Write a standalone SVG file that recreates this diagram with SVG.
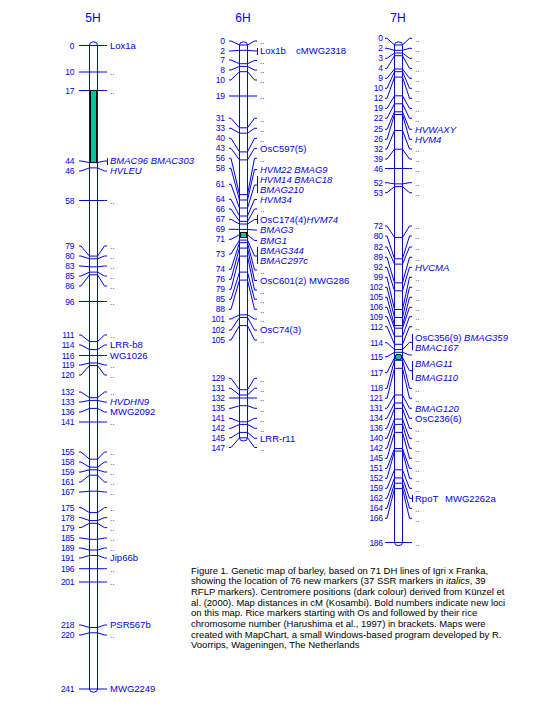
<svg xmlns="http://www.w3.org/2000/svg" width="540" height="720" viewBox="0 0 540 720">
<style>
text{font-family:"Liberation Sans",Arial,sans-serif;fill:#0000ff}
.h{font-size:12px;text-anchor:middle}
.n{font-size:8.5px;text-anchor:end;letter-spacing:-0.4px}
.l{font-size:9.5px}
.d{font-size:8px}
.i{font-style:italic}
.bar{fill:none;stroke:#0000ff;stroke-width:1}
.c path,.br{fill:none;stroke:#0000ff;stroke-width:1}
.cen{fill:#00c896;stroke:#000;stroke-width:1}
.cap{font-size:9.5px;fill:#000}
</style>
<rect width="540" height="720" fill="#fff"/>

<g id="connectors" class="c">
<!-- 5H -->
<path d="M79,45.5H81L89.5,45.5H97.5L104.5,45.5H107"/>
<path d="M79,72H81L89.5,72H97.5L104.5,72H107"/>
<path d="M79,90.5H81L89.5,90.5H97.5L104.5,90.5H107"/>
<path d="M79,161H81L89.5,162.6H97.5L104.5,161H107"/>
<path d="M79,171H81L89.5,167.9H97.5L104.5,171H107"/>
<path d="M79,200.5H81L89.5,200.5H97.5L104.5,200.5H107"/>
<path d="M79,246H81L89.5,256.1H97.5L104.5,246H107"/>
<path d="M79,256H81L89.5,258.8H97.5L104.5,256H107"/>
<path d="M79,266H81L89.5,266.8H97.5L104.5,266H107"/>
<path d="M79,276H81L89.5,272.1H97.5L104.5,276H107"/>
<path d="M79,286H81L89.5,274.8H97.5L104.5,286H107"/>
<path d="M79,301.5H81L89.5,301.5H97.5L104.5,301.5H107"/>
<path d="M79,335H81L89.5,341.6H97.5L104.5,335H107"/>
<path d="M79,345H81L89.5,349.6H97.5L104.5,345H107"/>
<path d="M79,355.5H81L89.5,355.5H97.5L104.5,355.5H107"/>
<path d="M79,365H81L89.5,363H97.5L104.5,365H107"/>
<path d="M79,375H81L89.5,365.6H97.5L104.5,375H107"/>
<path d="M79,392H81L89.5,397.7H97.5L104.5,392H107"/>
<path d="M79,402H81L89.5,400.4H97.5L104.5,402H107"/>
<path d="M79,412H81L89.5,408.4H97.5L104.5,412H107"/>
<path d="M79,422H81L89.5,422H97.5L104.5,422H107"/>
<path d="M79,452H81L89.5,459.2H97.5L104.5,452H107"/>
<path d="M79,462H81L89.5,467.2H97.5L104.5,462H107"/>
<path d="M79,472H81L89.5,469.8H97.5L104.5,472H107"/>
<path d="M79,482H81L89.5,475.2H97.5L104.5,482H107"/>
<path d="M79,492H81L89.5,491.2H97.5L104.5,492H107"/>
<path d="M79,507.6H81L89.5,512.6H97.5L104.5,507.6H107"/>
<path d="M79,517.6H81L89.5,520.6H97.5L104.5,517.6H107"/>
<path d="M79,527.6H81L89.5,523.3H97.5L104.5,527.6H107"/>
<path d="M79,538H81L89.5,539.3H97.5L104.5,538H107"/>
<path d="M79,548H81L89.5,550H97.5L104.5,548H107"/>
<path d="M79,558H81L89.5,555.4H97.5L104.5,558H107"/>
<path d="M79,568.7H81L89.5,568.7H97.5L104.5,568.7H107"/>
<path d="M79,582H81L89.5,582H97.5L104.5,582H107"/>
<path d="M79,625H81L89.5,627.5H97.5L104.5,625H107"/>
<path d="M79,635H81L89.5,632.8H97.5L104.5,635H107"/>
<path d="M79,689H81L89.5,689H97.5L104.5,689H107"/>
<!-- 6H -->
<path d="M229,41H231L239.5,45H247.5L254.5,41H257"/>
<path d="M229,51H231L239.5,50.3H247.5L254.5,51H257"/>
<path d="M229,60H231L239.5,63.7H247.5L254.5,60.5H257"/>
<path d="M229,70H231L239.5,66.4H247.5L254.5,70H257"/>
<path d="M229,80H231L239.5,71.7H247.5L254.5,80H257"/>
<path d="M229,96H231L239.5,96H247.5L254.5,96H257"/>
<path d="M229,118.3H231L239.5,127.8H247.5L254.5,118.3H257"/>
<path d="M229,128.3H231L239.5,133.2H247.5L254.5,128.3H257"/>
<path d="M229,138.3H231L239.5,151.9H247.5L254.5,138.3H257"/>
<path d="M229,148.3H231L239.5,159.9H247.5L254.5,148.3H257"/>
<path d="M229,158.3H231L239.5,194.6H247.5L254.5,158.3H257"/>
<path d="M229,168.3H231L239.5,200H247.5L254.5,169.5H257"/>
<path d="M229,184.3H231L239.5,208H247.5L254.5,185H257"/>
<path d="M229,199.3H231L239.5,216H247.5L254.5,199.5H257"/>
<path d="M229,209H231L239.5,221.4H247.5L254.5,209H257"/>
<path d="M229,219.3H231L239.5,224H247.5L254.5,219.5H257"/>
<path d="M229,229.3H231L239.5,229.4H247.5L254.5,230H257"/>
<path d="M229,239.3H231L239.5,234.7H247.5L254.5,240.5H257"/>
<path d="M229,254H231L239.5,240.1H247.5L254.5,256H257"/>
<path d="M229,269.3H231L239.5,242.7H247.5L254.5,270H257"/>
<path d="M229,279.3H231L239.5,248.1H247.5L254.5,280.5H257"/>
<path d="M229,289.3H231L239.5,256.1H247.5L254.5,290H257"/>
<path d="M229,299.3H231L239.5,272.1H247.5L254.5,299.3H257"/>
<path d="M229,309.3H231L239.5,280.1H247.5L254.5,309.3H257"/>
<path d="M229,319H231L239.5,314.9H247.5L254.5,319H257"/>
<path d="M229,330H231L239.5,317.5H247.5L254.5,330H257"/>
<path d="M229,340H231L239.5,325.6H247.5L254.5,340H257"/>
<path d="M229,378.3H231L239.5,389.7H247.5L254.5,378.3H257"/>
<path d="M229,388.3H231L239.5,395H247.5L254.5,388.3H257"/>
<path d="M229,398H231L239.5,398H247.5L254.5,398H257"/>
<path d="M229,408.3H231L239.5,405.7H247.5L254.5,408.3H257"/>
<path d="M229,418.3H231L239.5,421.8H247.5L254.5,418.3H257"/>
<path d="M229,428.3H231L239.5,424.4H247.5L254.5,428.3H257"/>
<path d="M229,437.8H231L239.5,432.4H247.5L254.5,438.3H257"/>
<path d="M229,447.5H231L239.5,437.8H247.5L254.5,447.5H257"/>
<!-- 7H -->
<path d="M385,38.3H387L394.5,45H402.5L409.5,38.3H412"/>
<path d="M385,48.3H387L394.5,50.3H402.5L409.5,48.3H412"/>
<path d="M385,58.3H387L394.5,53H402.5L409.5,58.3H412"/>
<path d="M385,68.3H387L394.5,55.7H402.5L409.5,68.3H412"/>
<path d="M385,78.3H387L394.5,69H402.5L409.5,78.3H412"/>
<path d="M385,88.3H387L394.5,71.7H402.5L409.5,88.3H412"/>
<path d="M385,98.3H387L394.5,77.1H402.5L409.5,98.3H412"/>
<path d="M385,108.3H387L394.5,95.8H402.5L409.5,108.3H412"/>
<path d="M385,118.3H387L394.5,103.8H402.5L409.5,118.3H412"/>
<path d="M385,129.3H387L394.5,111.8H402.5L409.5,129.3H412"/>
<path d="M385,139.3H387L394.5,114.5H402.5L409.5,139.3H412"/>
<path d="M385,149H387L394.5,130.5H402.5L409.5,149H412"/>
<path d="M385,159H387L394.5,149.2H402.5L409.5,159H412"/>
<path d="M385,168.5H387L394.5,168.5H402.5L409.5,168.5H412"/>
<path d="M385,182.7H387L394.5,183.9H402.5L409.5,182.7H412"/>
<path d="M385,192.7H387L394.5,186.6H402.5L409.5,192.7H412"/>
<path d="M385,226H387L394.5,237.4H402.5L409.5,226H412"/>
<path d="M385,236H387L394.5,258.8H402.5L409.5,236H412"/>
<path d="M385,247H387L394.5,264.1H402.5L409.5,247H412"/>
<path d="M385,257.3H387L394.5,282.8H402.5L409.5,257.3H412"/>
<path d="M385,267.3H387L394.5,290.8H402.5L409.5,267.3H412"/>
<path d="M385,277.3H387L394.5,309.5H402.5L409.5,277.3H412"/>
<path d="M385,287.3H387L394.5,317.5H402.5L409.5,287.3H412"/>
<path d="M385,297.3H387L394.5,325.6H402.5L409.5,297.3H412"/>
<path d="M385,307.3H387L394.5,328.2H402.5L409.5,307.3H412"/>
<path d="M385,316.7H387L394.5,336.2H402.5L409.5,316.7H412"/>
<path d="M385,326.7H387L394.5,344.3H402.5L409.5,326.7H412"/>
<path d="M385,342.7H387L394.5,349.6H402.5L409.5,342.3H412"/>
<path d="M385,356.7H387L394.5,352.3H402.5L409.5,355H412"/>
<path d="M385,372.7H387L394.5,357.6H402.5L409.5,370.7H412"/>
<path d="M385,388.3H387L394.5,360.3H402.5L409.5,388.3H412"/>
<path d="M385,398.3H387L394.5,368.3H402.5L409.5,398.3H412"/>
<path d="M385,408.3H387L394.5,395H402.5L409.5,408.3H412"/>
<path d="M385,418.3H387L394.5,403H402.5L409.5,418.3H412"/>
<path d="M385,428.3H387L394.5,408.4H402.5L409.5,428.3H412"/>
<path d="M385,438.3H387L394.5,419.1H402.5L409.5,438.3H412"/>
<path d="M385,448.3H387L394.5,424.4H402.5L409.5,448.3H412"/>
<path d="M385,458.3H387L394.5,432.4H402.5L409.5,458.3H412"/>
<path d="M385,468.3H387L394.5,448.5H402.5L409.5,468.3H412"/>
<path d="M385,478.3H387L394.5,451.1H402.5L409.5,478.3H412"/>
<path d="M385,488.3H387L394.5,469.8H402.5L409.5,488.3H412"/>
<path d="M385,498.3H387L394.5,477.9H402.5L409.5,498.3H412"/>
<path d="M385,508.3H387L394.5,483.2H402.5L409.5,508.3H412"/>
<path d="M385,518.3H387L394.5,488.6H402.5L409.5,518.3H412"/>
<path d="M385,542.5H387L394.5,542.5H402.5L409.5,542.5H412"/>
</g>

<g id="chr-5H">
<text class="h" x="93" y="22">5H</text>
<rect class="cen" x="90.5" y="90.5" width="6" height="72"/>
<path class="bar" d="M89.5,689V45A4,3.2 0 0 1 97.5,45V689A4,3.2 0 0 1 89.5,689Z"/>
<line class="br" x1="107.5" y1="158" x2="107.5" y2="165"/>
<g>
<text class="n" x="74" y="48.6">0</text>
<text class="n" x="74" y="75.1">10</text>
<text class="n" x="74" y="93.6">17</text>
<text class="n" x="74" y="164.1">44</text>
<text class="n" x="74" y="174.1">46</text>
<text class="n" x="74" y="203.6">58</text>
<text class="n" x="74" y="249.1">79</text>
<text class="n" x="74" y="259.1">80</text>
<text class="n" x="74" y="269.1">83</text>
<text class="n" x="74" y="279.1">85</text>
<text class="n" x="74" y="289.1">86</text>
<text class="n" x="74" y="304.6">96</text>
<text class="n" x="74" y="338.1">111</text>
<text class="n" x="74" y="348.1">114</text>
<text class="n" x="74" y="358.6">116</text>
<text class="n" x="74" y="368.1">119</text>
<text class="n" x="74" y="378.1">120</text>
<text class="n" x="74" y="395.1">132</text>
<text class="n" x="74" y="405.1">133</text>
<text class="n" x="74" y="415.1">136</text>
<text class="n" x="74" y="425.1">141</text>
<text class="n" x="74" y="455.1">155</text>
<text class="n" x="74" y="465.1">158</text>
<text class="n" x="74" y="475.1">159</text>
<text class="n" x="74" y="485.1">161</text>
<text class="n" x="74" y="495.1">167</text>
<text class="n" x="74" y="510.7">175</text>
<text class="n" x="74" y="520.7">178</text>
<text class="n" x="74" y="530.7">179</text>
<text class="n" x="74" y="541.1">185</text>
<text class="n" x="74" y="551.1">189</text>
<text class="n" x="74" y="561.1">191</text>
<text class="n" x="74" y="571.8">196</text>
<text class="n" x="74" y="585.1">201</text>
<text class="n" x="74" y="628.1">218</text>
<text class="n" x="74" y="638.1">220</text>
<text class="n" x="74" y="692.1">241</text>
</g>
<g>
<text class="l" x="110" y="48.9">Lox1a</text>
<text class="l d" x="110" y="75.4">..</text>
<text class="l d" x="110" y="93.9">..</text>
<text class="l i" x="110" y="164.4">BMAC96 BMAC303</text>
<text class="l i" x="110" y="174.4">HVLEU</text>
<text class="l d" x="110" y="203.9">..</text>
<text class="l d" x="110" y="249.4">..</text>
<text class="l d" x="110" y="259.4">..</text>
<text class="l d" x="110" y="269.4">..</text>
<text class="l d" x="110" y="279.4">..</text>
<text class="l d" x="110" y="289.4">..</text>
<text class="l d" x="110" y="304.9">..</text>
<text class="l d" x="110" y="338.4">..</text>
<text class="l" x="110" y="348.4">LRR-b8</text>
<text class="l" x="110" y="358.9">WG1026</text>
<text class="l d" x="110" y="368.4">..</text>
<text class="l d" x="110" y="378.4">..</text>
<text class="l d" x="110" y="395.4">..</text>
<text class="l i" x="110" y="405.4">HVDHN9</text>
<text class="l" x="110" y="415.4">MWG2092</text>
<text class="l d" x="110" y="425.4">..</text>
<text class="l d" x="110" y="455.4">..</text>
<text class="l d" x="110" y="465.4">..</text>
<text class="l d" x="110" y="475.4">..</text>
<text class="l d" x="110" y="485.4">..</text>
<text class="l d" x="110" y="495.4">..</text>
<text class="l d" x="110" y="511">..</text>
<text class="l d" x="110" y="521">..</text>
<text class="l d" x="110" y="531">..</text>
<text class="l d" x="110" y="541.4">..</text>
<text class="l d" x="110" y="551.4">..</text>
<text class="l" x="110" y="561.4">Jip66b</text>
<text class="l d" x="110" y="572.1">..</text>
<text class="l d" x="110" y="585.4">..</text>
<text class="l" x="110" y="628.4">PSR567b</text>
<text class="l d" x="110" y="638.4">..</text>
<text class="l" x="110" y="692.4">MWG2249</text>
</g>
</g>

<g id="chr-6H">
<text class="h" x="243" y="22">6H</text>
<rect class="cen" x="240.5" y="232.5" width="6" height="5"/>
<path class="bar" d="M239.5,437.8V45A4,3.2 0 0 1 247.5,45V437.8A4,3.2 0 0 1 239.5,437.8Z"/>
<line class="br" x1="257.5" y1="48" x2="257.5" y2="55"/>
<line class="br" x1="257.5" y1="176" x2="257.5" y2="193"/>
<line class="br" x1="257.5" y1="215" x2="257.5" y2="224"/>
<line class="br" x1="257.5" y1="247" x2="257.5" y2="264"/>
<g>
<text class="n" x="224.5" y="44.1">0</text>
<text class="n" x="224.5" y="54.1">2</text>
<text class="n" x="224.5" y="63.1">7</text>
<text class="n" x="224.5" y="73.1">8</text>
<text class="n" x="224.5" y="83.1">10</text>
<text class="n" x="224.5" y="99.1">19</text>
<text class="n" x="224.5" y="121.4">31</text>
<text class="n" x="224.5" y="131.4">33</text>
<text class="n" x="224.5" y="141.4">40</text>
<text class="n" x="224.5" y="151.4">43</text>
<text class="n" x="224.5" y="161.4">56</text>
<text class="n" x="224.5" y="171.4">58</text>
<text class="n" x="224.5" y="187.4">61</text>
<text class="n" x="224.5" y="202.4">64</text>
<text class="n" x="224.5" y="212.1">66</text>
<text class="n" x="224.5" y="222.4">67</text>
<text class="n" x="224.5" y="232.4">69</text>
<text class="n" x="224.5" y="242.4">71</text>
<text class="n" x="224.5" y="257.1">73</text>
<text class="n" x="224.5" y="272.4">74</text>
<text class="n" x="224.5" y="282.4">76</text>
<text class="n" x="224.5" y="292.4">79</text>
<text class="n" x="224.5" y="302.4">85</text>
<text class="n" x="224.5" y="312.4">88</text>
<text class="n" x="224.5" y="322.1">101</text>
<text class="n" x="224.5" y="333.1">102</text>
<text class="n" x="224.5" y="343.1">105</text>
<text class="n" x="224.5" y="381.4">129</text>
<text class="n" x="224.5" y="391.4">131</text>
<text class="n" x="224.5" y="401.1">132</text>
<text class="n" x="224.5" y="411.4">135</text>
<text class="n" x="224.5" y="421.4">141</text>
<text class="n" x="224.5" y="431.4">142</text>
<text class="n" x="224.5" y="440.9">145</text>
<text class="n" x="224.5" y="450.6">147</text>
</g>
<g>
<text class="l d" x="260" y="44.4">..</text>
<text class="l" x="260" y="54.4">Lox1b<tspan x="296">cMWG2318</tspan></text>
<text class="l d" x="260" y="64">..</text>
<text class="l d" x="260" y="73.4">..</text>
<text class="l d" x="260" y="83.4">..</text>
<text class="l d" x="260" y="99.4">..</text>
<text class="l d" x="260" y="121.7">..</text>
<text class="l d" x="260" y="131.7">..</text>
<text class="l d" x="260" y="141.7">..</text>
<text class="l" x="260" y="151.7">OsC597(5)</text>
<text class="l d" x="260" y="161.7">..</text>
<text class="l i" x="260" y="173.4">HVM22 BMAG9</text>
<text class="l i" x="260" y="183.4">HVM14 BMAC18</text>
<text class="l i" x="260" y="193.4">BMAG210</text>
<text class="l i" x="260" y="202.9">HVM34</text>
<text class="l d" x="260" y="212.4">..</text>
<text class="l" x="260" y="222.9">OsC174(4)<tspan class="i">HVM74</tspan></text>
<text class="l i" x="260" y="233.4">BMAG3</text>
<text class="l i" x="260" y="244.4">BMG1</text>
<text class="l i" x="260" y="254.4">BMAG344</text>
<text class="l i" x="260" y="264.4">BMAC297c</text>
<text class="l d" x="260" y="274.2">..</text>
<text class="l" x="260" y="283.9">OsC601(2) MWG286</text>
<text class="l d" x="260" y="293.5">..</text>
<text class="l d" x="260" y="302.7">..</text>
<text class="l d" x="260" y="312.7">..</text>
<text class="l d" x="260" y="322.4">..</text>
<text class="l" x="260" y="333.4">OsC74(3)</text>
<text class="l d" x="260" y="343.4">..</text>
<text class="l d" x="260" y="381.7">..</text>
<text class="l d" x="260" y="391.7">..</text>
<text class="l d" x="260" y="401.4">..</text>
<text class="l d" x="260" y="411.7">..</text>
<text class="l d" x="260" y="421.7">..</text>
<text class="l d" x="260" y="431.7">..</text>
<text class="l" x="260" y="441.7">LRR-r11</text>
<text class="l d" x="260" y="451.3">..</text>
</g>
</g>

<g id="chr-7H">
<text class="h" x="398" y="22">7H</text>
<path class="bar" d="M394.5,542.5V45A4,3.2 0 0 1 402.5,45V542.5A4,3.2 0 0 1 394.5,542.5Z"/>
<rect class="cen" x="395.5" y="354.5" width="6" height="5" rx="1.5"/>
<line class="br" x1="412.5" y1="334" x2="412.5" y2="350"/>
<line class="br" x1="412.5" y1="361" x2="412.5" y2="380"/>
<line class="br" x1="412.5" y1="495" x2="412.5" y2="502"/>
<g>
<text class="n" x="382.5" y="41.4">0</text>
<text class="n" x="382.5" y="51.4">2</text>
<text class="n" x="382.5" y="61.4">3</text>
<text class="n" x="382.5" y="71.4">4</text>
<text class="n" x="382.5" y="81.4">9</text>
<text class="n" x="382.5" y="91.4">10</text>
<text class="n" x="382.5" y="101.4">12</text>
<text class="n" x="382.5" y="111.4">19</text>
<text class="n" x="382.5" y="121.4">22</text>
<text class="n" x="382.5" y="132.4">25</text>
<text class="n" x="382.5" y="142.4">26</text>
<text class="n" x="382.5" y="152.1">32</text>
<text class="n" x="382.5" y="162.1">39</text>
<text class="n" x="382.5" y="171.6">46</text>
<text class="n" x="382.5" y="185.8">52</text>
<text class="n" x="382.5" y="195.8">53</text>
<text class="n" x="382.5" y="229.1">72</text>
<text class="n" x="382.5" y="239.1">80</text>
<text class="n" x="382.5" y="250.1">82</text>
<text class="n" x="382.5" y="260.4">89</text>
<text class="n" x="382.5" y="270.4">92</text>
<text class="n" x="382.5" y="280.4">99</text>
<text class="n" x="382.5" y="290.4">102</text>
<text class="n" x="382.5" y="300.4">105</text>
<text class="n" x="382.5" y="310.4">106</text>
<text class="n" x="382.5" y="319.8">109</text>
<text class="n" x="382.5" y="329.8">112</text>
<text class="n" x="382.5" y="345.8">114</text>
<text class="n" x="382.5" y="359.8">115</text>
<text class="n" x="382.5" y="375.8">117</text>
<text class="n" x="382.5" y="391.4">118</text>
<text class="n" x="382.5" y="401.4">121</text>
<text class="n" x="382.5" y="411.4">131</text>
<text class="n" x="382.5" y="421.4">134</text>
<text class="n" x="382.5" y="431.4">136</text>
<text class="n" x="382.5" y="441.4">140</text>
<text class="n" x="382.5" y="451.4">142</text>
<text class="n" x="382.5" y="461.4">145</text>
<text class="n" x="382.5" y="471.4">151</text>
<text class="n" x="382.5" y="481.4">152</text>
<text class="n" x="382.5" y="491.4">159</text>
<text class="n" x="382.5" y="501.4">162</text>
<text class="n" x="382.5" y="511.4">164</text>
<text class="n" x="382.5" y="521.4">166</text>
<text class="n" x="382.5" y="545.6">186</text>
</g>
<g>
<text class="l d" x="415" y="41.7">..</text>
<text class="l d" x="415" y="51.7">..</text>
<text class="l d" x="415" y="61.7">..</text>
<text class="l d" x="415" y="71.7">..</text>
<text class="l d" x="415" y="81.7">..</text>
<text class="l d" x="415" y="91.7">..</text>
<text class="l d" x="415" y="101.7">..</text>
<text class="l d" x="415" y="111.7">..</text>
<text class="l d" x="415" y="121.7">..</text>
<text class="l i" x="415" y="132.7">HVWAXY</text>
<text class="l i" x="415" y="142.7">HVM4</text>
<text class="l d" x="415" y="152.4">..</text>
<text class="l d" x="415" y="162.4">..</text>
<text class="l d" x="415" y="171.9">..</text>
<text class="l d" x="415" y="186.1">..</text>
<text class="l d" x="415" y="196.1">..</text>
<text class="l d" x="415" y="229.4">..</text>
<text class="l d" x="415" y="239.4">..</text>
<text class="l d" x="415" y="250.4">..</text>
<text class="l d" x="415" y="260.7">..</text>
<text class="l i" x="415" y="270.7">HVCMA</text>
<text class="l d" x="415" y="280.7">..</text>
<text class="l d" x="415" y="290.7">..</text>
<text class="l d" x="415" y="300.7">..</text>
<text class="l d" x="415" y="310.7">..</text>
<text class="l d" x="415" y="320.1">..</text>
<text class="l d" x="415" y="330.1">..</text>
<text class="l" x="415" y="340.7">OsC356(9) <tspan class="i">BMAG359</tspan></text>
<text class="l i" x="415" y="350.7">BMAC167</text>
<text class="l i" x="415" y="367.4">BMAG11</text>
<text class="l i" x="415" y="380.7">BMAG110</text>
<text class="l d" x="415" y="391.7">..</text>
<text class="l d" x="415" y="401.7">..</text>
<text class="l i" x="415" y="411.7">BMAG120</text>
<text class="l" x="415" y="421.7">OsC236(6)</text>
<text class="l d" x="415" y="431.7">..</text>
<text class="l d" x="415" y="441.7">..</text>
<text class="l d" x="415" y="451.7">..</text>
<text class="l d" x="415" y="461.7">..</text>
<text class="l d" x="415" y="471.7">..</text>
<text class="l d" x="415" y="481.7">..</text>
<text class="l d" x="415" y="491.7">..</text>
<text class="l" x="415" y="501.7">RpoT<tspan x="445">MWG2262a</tspan></text>
<text class="l d" x="415" y="511.7">..</text>
<text class="l d" x="415" y="521.7">..</text>
<text class="l d" x="415" y="545.9">..</text>
</g>
</g>

<g id="caption">
<text class="cap" x="191" y="573.5">Figure 1. Genetic map of barley, based on 71 DH lines of Igri x Franka,</text>
<text class="cap" x="191" y="584.2">showing the location of 76 new markers (37 SSR markers in <tspan font-style="italic">italics</tspan>, 39</text>
<text class="cap" x="191" y="594.9">RFLP markers). Centromere positions (dark colour) derived from Künzel et</text>
<text class="cap" x="191" y="605.6">al. (2000). Map distances in cM (Kosambi). Bold numbers indicate new loci</text>
<text class="cap" x="191" y="616.3">on this map. Rice markers starting with Os and followed by their rice</text>
<text class="cap" x="191" y="627">chromosome number (Harushima et al., 1997) in brackets. Maps were</text>
<text class="cap" x="191" y="637.7">created with MapChart, a small Windows-based program developed by R.</text>
<text class="cap" x="191" y="648.4">Voorrips, Wageningen, The Netherlands</text>
</g>
</svg>
